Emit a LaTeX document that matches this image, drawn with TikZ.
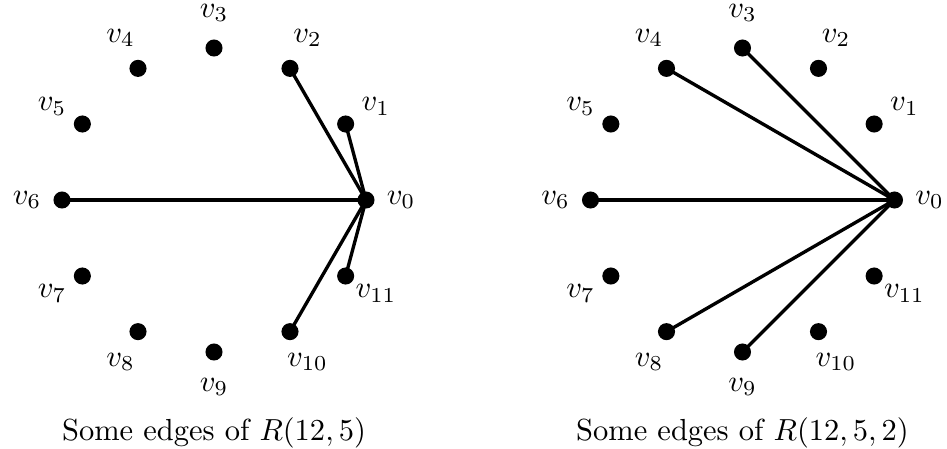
\documentclass[tikz,border=0pt]{standalone}
\begin{document}
\begin{tikzpicture}[x=0.328pt,y=0.328pt,
  vdot/.style={circle,fill=black,inner sep=0pt,minimum size=5.6pt},
  vlab/.style={inner sep=0pt,anchor=center},
  edge/.style={line width=1.1pt}]
\useasboundingbox (0,0) rectangle (947,448);
% left circle
\foreach \i in {0,...,11}{
  \node[vdot] (a\i) at ({214+152*cos(30*\i)},{248+152*sin(30*\i)}) {};
  \node[vlab] (la\i) at ({214+187*cos(30*\i)},{248+187*sin(30*\i)}) {$v_{\i}$};
}
% right circle
\foreach \i in {0,...,11}{
  \node[vdot] (b\i) at ({742.5+152*cos(30*\i)},{248+152*sin(30*\i)}) {};
  \node[vlab] (lb\i) at ({742.5+187*cos(30*\i)},{248+187*sin(30*\i)}) {$v_{\i}$};
}
\foreach \j in {1,2,6,10,11}{ \draw[edge] (a0.center) -- (a\j.center); }
\foreach \j in {3,4,6,8,9}{ \draw[edge] (b0.center) -- (b\j.center); }
\node[anchor=base] (capa) at (214,8) {Some edges of $R(12,5)$};
\node[anchor=base] (capb) at (742.5,8) {Some edges of $R(12,5,2)$};
\end{tikzpicture}
\end{document}
